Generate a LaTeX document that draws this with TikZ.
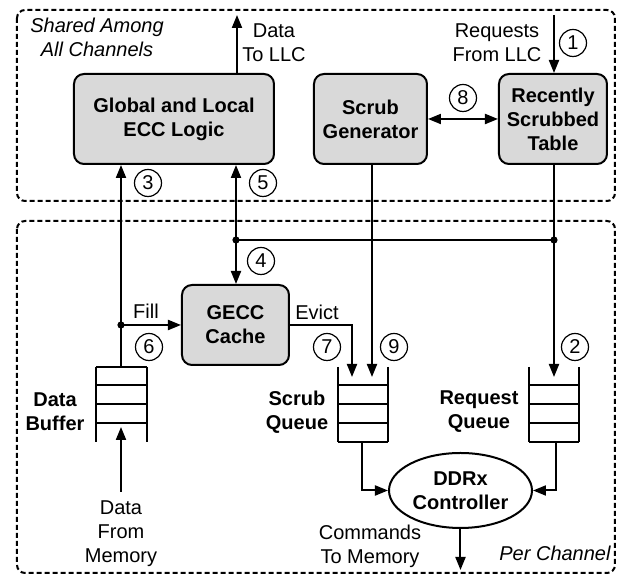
\documentclass[tikz,border=0pt]{standalone}
\usepackage{fontspec}
\setmainfont{Liberation Sans}
\usetikzlibrary{arrows.meta, shapes.geometric}

\tikzset{
  unit/.style={draw, line width=1pt, rounded corners=5pt, fill=gray!30, font=\bfseries, align=center, inner sep=0pt},
  num/.style={draw, circle, line width=0.6pt, inner sep=0pt, minimum size=13.5pt},
  lbl/.style={align=center, inner sep=0pt},
  region/.style={line width=1pt, dash pattern=on 2.5pt off 1.5pt, rounded corners=4pt},
}

\begin{document}
\begin{tikzpicture}[x=0.5pt, y=-0.5pt, line width=1pt, >={Triangle[length=6.5pt,width=5pt]}, font=\fontsize{10}{12}\selectfont]
            \useasboundingbox (0,0) rectangle (618,576);

            % shared part and per channel part
            \draw[region] (17,10) rectangle (615,201);
            \draw[region] (17,221) rectangle (615,573);

            \node[unit, minimum width=100pt, minimum height=45pt] (ecc) at (174,119) {Global and Local\\ECC Logic};
            \node[unit, minimum width=56.5pt, minimum height=45pt] (sgen) at (370.5,119) {Scrub\\Generator};
            \node[unit, minimum width=54pt, minimum height=45pt] (rst) at (553,119) {Recently\\Scrubbed\\Table};
            \node[unit, minimum width=53.5pt, minimum height=40pt] (gecc) at (235.5,325) {GECC\\Cache};
            \node[draw, ellipse, line width=1pt, minimum width=71.5pt, minimum height=37.5pt, inner sep=0pt, font=\bfseries, align=center] (ddrx) at (460.5,490.5) {DDRx\\Controller};

            % buffers
            \draw (96,367) -- (96,442) (147,367) -- (147,442);
            \foreach \y in {367,385,404,423} \draw (96,\y) -- (147,\y);
            \foreach \x in {338,529} {
                \draw (\x,367) -- (\x,442) (\x+50,367) -- (\x+50,442);
                \foreach \y in {385,404,423,442} \draw (\x,\y) -- (\x+50,\y);
            }

            \node[lbl, font=\itshape] (shared) at (97,37) {Shared Among\\All Channels};
            \node[lbl, font=\itshape] (perch) at (555,553) {Per Channel};
            \node[lbl] (tollc) at (274,43) {Data\\To LLC};
            \node[lbl] (fromllc) at (497,43) {Requests\\From LLC};
            \node[lbl] (filltxt) at (146,311) {Fill};
            \node[lbl] (evicttxt) at (317,312) {Evict};
            \node[lbl, font=\bfseries] (dbuftxt) at (55,412) {Data\\Buffer};
            \node[lbl, font=\bfseries] (sqtxt) at (297,412) {Scrub\\Queue};
            \node[lbl, font=\bfseries] (rqtxt) at (479,412) {Request\\Queue};
            \node[lbl] (memtxt) at (121,534) {Data\\From\\Memory};
            \node[lbl] (cmdtxt) at (370,546) {Commands\\To Memory};

            \node[num] (n1) at (573,43) {1};
            \node[num] (n2) at (575,347) {2};
            \node[num] (n3) at (148,183) {3};
            \node[num] (n4) at (261,261) {4};
            \node[num] (n5) at (263,183) {5};
            \node[num] (n6) at (149,347) {6};
            \node[num] (n7) at (327,347) {7};
            \node[num] (n8) at (463,98) {8};
            \node[num] (n9) at (394,347) {9};

            \coordinate (llc) at (237,15);
            \coordinate (req) at (554,15);
            \coordinate (dbuf) at (121,367);
            \coordinate (dbufin) at (121,427);
            \coordinate (memin) at (121,492);
            \coordinate (fill) at (121,325);
            \coordinate (bus) at (236,240);
            \coordinate (busr) at (554,240);
            \coordinate (rq) at (554,377);
            \coordinate (sq) at (372,377);
            \coordinate (ev) at (352,377);
            \coordinate (sqout) at (362,442);
            \coordinate (rqout) at (556,442);
            \coordinate (cmd) at (460.5,570);

            \draw[->] (ecc.north -| llc) -- (llc);
            \draw[->] (req) -- (req |- rst.north);
            \draw[<->] (sgen) -- (rst);
            \draw[->] (dbuf) -- (dbuf |- ecc.south);
            \draw[->] (fill) -- (gecc);
            \draw[->] (bus) -- (bus |- ecc.south);
            \draw[->] (bus) -- (bus |- gecc.north);
            \draw (bus) -- (busr);
            \draw[->] (rst.south -| rq) -- (rq);
            \draw[->] (sgen.south -| sq) -- (sq);
            \draw[->] (gecc.east) -| (ev);
            \draw[->] (sqout) |- (ddrx.west);
            \draw[->] (rqout) |- (ddrx.east);
            \draw[->] (ddrx.south) -- (cmd);
            \draw[->] (memin) -- (dbufin);

            \fill (fill) circle[radius=1.8pt];
            \fill (bus) circle[radius=1.8pt];
            \fill (busr) circle[radius=1.8pt];
        \end{tikzpicture}
\end{document}
